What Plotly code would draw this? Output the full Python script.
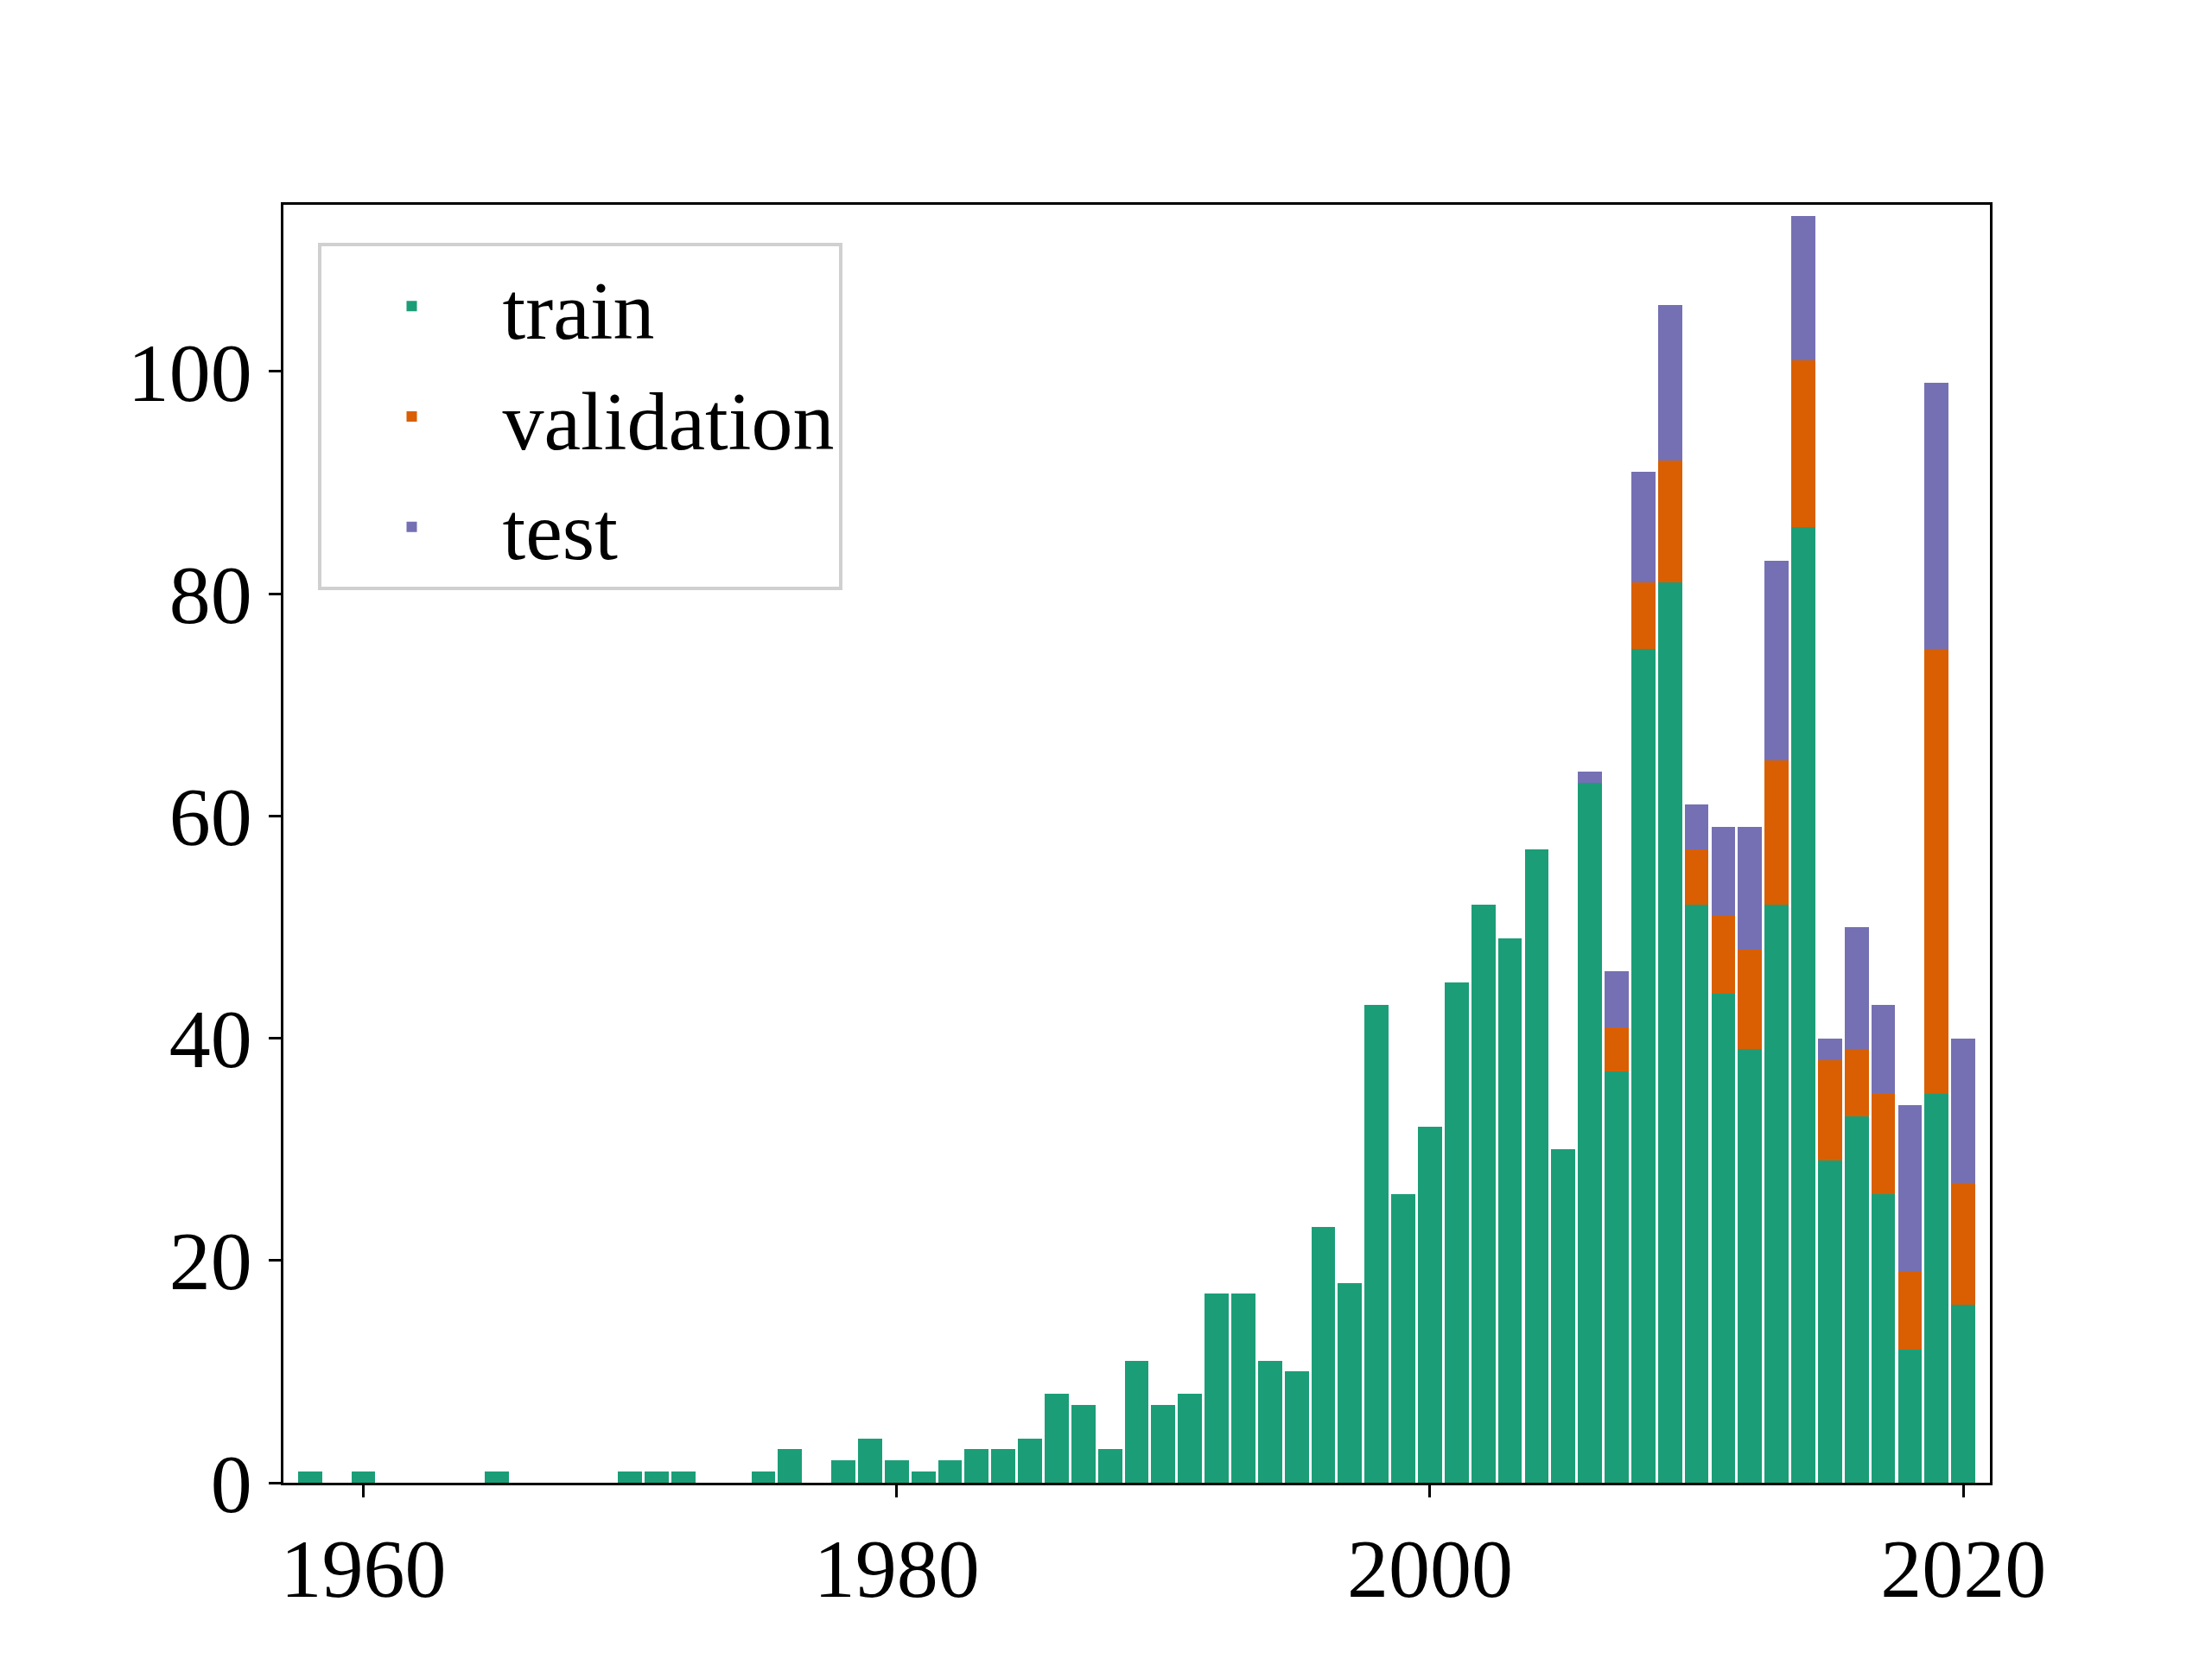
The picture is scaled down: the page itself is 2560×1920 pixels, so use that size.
import plotly.graph_objects as go

years = list(range(1958, 2021))
train_map = {1958:1,1960:1,1965:1,1970:1,1971:1,1972:1,1975:1,1976:3,1978:2,1979:4,1980:2,1981:1,1982:2,
 1983:3,1984:3,1985:4,1986:8,1987:7,1988:3,1989:11,1990:7,1991:8,1992:17,1993:17,1994:11,1995:10,
 1996:23,1997:18,1998:43,1999:26,2000:32,2001:45,2002:52,2003:49,2004:57,2005:30,2006:63,2007:37,
 2008:75,2009:81,2010:52,2011:44,2012:39,2013:52,2014:86,2015:29,2016:33,2017:26,2018:12,2019:35,2020:16}
val_map = {2007:4,2008:6,2009:11,2010:5,2011:7,2012:9,2013:13,2014:15,2015:9,2016:6,2017:9,2018:7,2019:40,2020:11}
test_map = {2006:1,2007:5,2008:10,2009:14,2010:4,2011:8,2012:11,2013:18,2014:13,2015:2,2016:11,2017:8,2018:15,2019:24,2020:13}
train = [train_map.get(y, 0) for y in years]
validation = [val_map.get(y, 0) for y in years]
test = [test_map.get(y, 0) for y in years]

fig = go.Figure()
for name, vals, col in [("train", train, "#1b9e77"), ("validation", validation, "#d95f02"), ("test", test, "#7570b3")]:
    fig.add_bar(x=years, y=vals, name=name, marker=dict(color=col, line=dict(width=0)))

font = dict(family="Liberation Serif, Times New Roman, serif", size=96, color="black")
fig.update_layout(
    barmode="stack", bargap=0.1, width=2560, height=1920,
    paper_bgcolor="white", plot_bgcolor="white", font=font,
    margin=dict(l=320, r=265, t=229, b=212),
    legend=dict(x=0.02, y=0.97, xanchor="left", yanchor="top", bgcolor="white",
                bordercolor="#d0d0d0", borderwidth=4, font=dict(size=96),
                itemwidth=200, tracegroupgap=30, traceorder="normal"),
    showlegend=True,
)
axis = dict(showline=True, linecolor="black", linewidth=3, mirror=True, ticks="outside",
            ticklen=14, tickwidth=3, tickcolor="black", showgrid=False, zeroline=False)
fig.update_xaxes(range=[1957.0, 2021.0], tickvals=[1960, 1980, 2000, 2020], **axis)
fig.update_yaxes(range=[0, 115], tickvals=[0, 20, 40, 60, 80, 100], **axis)
fig.write_html("out.html")
